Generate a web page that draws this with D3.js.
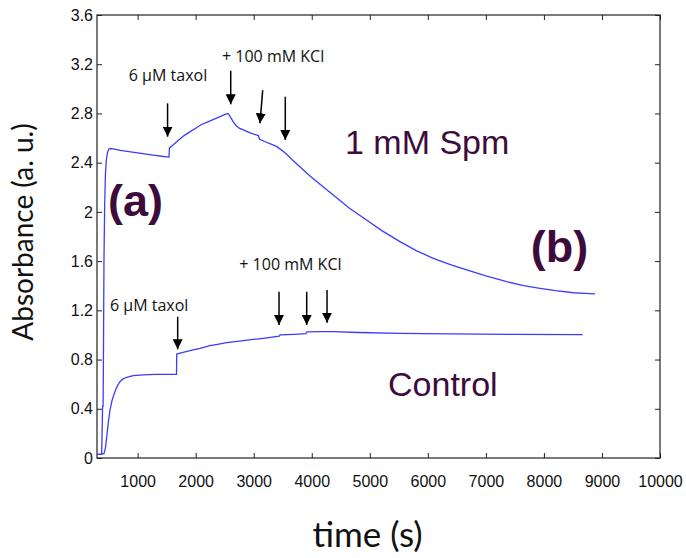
<!DOCTYPE html>
<html>
<head>
<meta charset="utf-8">
<script src="https://cdn.jsdelivr.net/npm/d3@7"></script>
<style>
  body { margin: 0; background: #fff; }
  svg { display: block; }
</style>
</head>
<body>
<svg id="canvas" width="686" height="558"></svg>
<script>
let xTicks = [1000, 2000, 3000, 4000, 5000, 6000, 7000, 8000, 9000, 10000];
let yTicks = [0, 0.4, 0.8, 1.2, 1.6, 2, 2.4, 2.8, 3.2, 3.6];

let spmTime = [300, 380, 392, 396, 405, 412, 420, 432, 445, 460, 480, 500, 530, 600, 700, 850, 1000, 1150, 1300, 1450, 1540, 1548, 1600, 1700, 1800, 1900, 2000, 2100, 2200, 2300, 2400, 2500, 2560, 2600, 2650, 2700, 2750, 2850, 2950, 3080, 3100, 3200, 3300, 3400, 3540, 3650, 3800, 3950, 4100, 4370, 4650, 4944, 5200, 5520, 5800, 6094, 6400, 6669, 7000, 7359, 7650, 7933, 8200, 8507, 8700, 8880];
let spmAbs = [0.03, 0.03, 0.3, 0.42, 0.42, 0.9, 1.6, 2.05, 2.3, 2.42, 2.48, 2.51, 2.515, 2.51, 2.5, 2.49, 2.48, 2.47, 2.46, 2.45, 2.445, 2.52, 2.54, 2.58, 2.62, 2.65, 2.68, 2.71, 2.73, 2.75, 2.77, 2.79, 2.80, 2.77, 2.73, 2.70, 2.68, 2.66, 2.64, 2.62, 2.59, 2.57, 2.55, 2.53, 2.48, 2.43, 2.365, 2.30, 2.24, 2.137, 2.03, 1.934, 1.85, 1.758, 1.685, 1.623, 1.57, 1.528, 1.48, 1.433, 1.40, 1.379, 1.36, 1.343, 1.337, 1.333];

let ctrlTime = [300, 350, 420, 445, 470, 495, 524, 560, 610, 650, 696, 750, 812, 925, 1100, 1300, 1500, 1670, 1674, 1750, 1850, 1959, 2075, 2247, 2400, 2535, 2750, 2993, 3200, 3440, 3455, 3700, 3900, 3920, 4150, 4370, 4800, 5520, 6382, 7500, 8668];
let ctrlAbs = [0.03, 0.03, 0.035, 0.08, 0.18, 0.29, 0.39, 0.47, 0.54, 0.585, 0.62, 0.643, 0.656, 0.669, 0.675, 0.68, 0.68, 0.68, 0.845, 0.855, 0.866, 0.878, 0.891, 0.913, 0.926, 0.937, 0.95, 0.964, 0.975, 0.99, 1.0, 1.005, 1.01, 1.025, 1.027, 1.027, 1.02, 1.013, 1.008, 1.005, 1.002];

// arrows: [time at top, abs at top, time at tip, abs at tip]
let arrows = [
  [1516, 2.882, 1516, 2.611],
  [2604, 3.147, 2604, 2.874],
  [3155, 2.990, 3108, 2.720],
  [3544, 2.936, 3544, 2.584],
  [1690, 1.148, 1690, 0.883],
  [3436, 1.351, 3436, 1.081],
  [3913, 1.351, 3913, 1.081],
  [4263, 1.365, 4263, 1.099]
];

let noteText = ["6 \u00b5M taxol", "+ 100 mM KCl", "6 \u00b5M taxol", "+ 100 mM KCl"];
let noteTime = [1523, 2454, 524, 2752];
let noteAbs = [3.064, 3.218, 1.195, 1.528];

let bigText = ["1 mM Spm", "Control", "(a)", "(b)"];
let bigTime = [4573, 5314, 490, 7772];
let bigAbs = [2.470, 0.504, 1.967, 1.593];
let bigBold = [false, false, true, true];

let canvas = d3.select("#canvas");

let plotLeft = 97, plotRight = 660, plotTop = 15, plotBottom = 458;

let x = d3.scaleLinear().domain([300, 10000]).range([plotLeft, plotRight]);
let y = d3.scaleLinear().domain([0, 3.6]).range([plotBottom, plotTop]);

let styleAxis = (g) => {
  g.select(".domain").remove();
  g.selectAll(".tick line").attr("stroke", "#222");
  g.selectAll(".tick text")
    .attr("fill", "#111")
    .style("font-family", "'Liberation Sans', Arial, sans-serif")
    .style("font-size", "16px");
};

canvas.append("g")
  .attr("transform", "translate(0," + plotBottom + ")")
  .call(d3.axisBottom(x).tickValues(xTicks).tickFormat(d3.format("d")).tickSize(-5).tickPadding(18))
  .call(styleAxis);

canvas.append("g")
  .attr("transform", "translate(" + plotLeft + ",0)")
  .call(d3.axisLeft(y).tickValues(yTicks).tickFormat((d) => d3.format(".1f")(d).replace(/\.0$/, "")).tickSize(-5).tickPadding(4))
  .call(styleAxis);

canvas.append("g")
  .attr("transform", "translate(0," + plotTop + ")")
  .call(d3.axisTop(x).tickValues(xTicks).tickFormat("").tickSize(-5))
  .call(styleAxis);

canvas.append("g")
  .attr("transform", "translate(" + plotRight + ",0)")
  .call(d3.axisRight(y).tickValues(yTicks).tickFormat("").tickSize(-5))
  .call(styleAxis);

canvas.append("rect")
  .attr("x", plotLeft)
  .attr("y", plotTop)
  .attr("width", plotRight - plotLeft)
  .attr("height", plotBottom - plotTop)
  .attr("fill", "none")
  .attr("stroke", "#222")
  .attr("stroke-width", 1.2);

let line = d3.line()
  .x((d) => x(d[0]))
  .y((d) => y(d[1]));

canvas.append("path")
  .datum(d3.zip(spmTime, spmAbs))
  .attr("d", line)
  .attr("fill", "none")
  .attr("stroke", "#3c3cff")
  .attr("stroke-width", 1.3);

canvas.append("path")
  .datum(d3.zip(ctrlTime, ctrlAbs))
  .attr("d", line)
  .attr("fill", "none")
  .attr("stroke", "#3c3cff")
  .attr("stroke-width", 1.3);

canvas.append("defs")
  .append("marker")
  .attr("id", "head")
  .attr("viewBox", "0 0 10 10")
  .attr("refX", 10)
  .attr("refY", 5)
  .attr("markerWidth", 10)
  .attr("markerHeight", 10)
  .attr("markerUnits", "userSpaceOnUse")
  .attr("orient", "auto")
  .append("path")
  .attr("d", "M0,0L10,5L0,10Z")
  .attr("fill", "#000");

canvas.selectAll(".arrow")
  .data(arrows)
  .enter()
  .append("line")
  .attr("class", "arrow")
  .attr("x1", (d) => x(d[0]))
  .attr("y1", (d) => y(d[1]))
  .attr("x2", (d) => x(d[2]))
  .attr("y2", (d) => y(d[3]))
  .attr("stroke", "#000")
  .attr("stroke-width", 1.5)
  .attr("marker-end", "url(#head)");

canvas.selectAll(".note")
  .data(noteText)
  .enter()
  .append("text")
  .attr("class", "note")
  .attr("x", (d, i) => x(noteTime[i]))
  .attr("y", (d, i) => y(noteAbs[i]))
  .attr("text-anchor", (d, i) => (i === 0 ? "middle" : "start"))
  .style("font-family", "'Open Sans', sans-serif")
  .style("font-size", "16px")
  .attr("fill", "#111")
  .text((d) => d);

canvas.selectAll(".big")
  .data(bigText)
  .enter()
  .append("text")
  .attr("class", "big")
  .attr("x", (d, i) => x(bigTime[i]))
  .attr("y", (d, i) => y(bigAbs[i]))
  .style("font-family", "'Liberation Sans', Arial, sans-serif")
  .style("font-size", (d, i) => (bigBold[i] ? "45px" : "34px"))
  .style("font-weight", (d, i) => (bigBold[i] ? "bold" : "normal"))
  .attr("fill", "#3d0c3d")
  .text((d) => d);

canvas.append("text")
  .attr("x", (plotLeft + plotRight) / 2 - 11)
  .attr("y", 547)
  .attr("text-anchor", "middle")
  .style("font-family", "Lato, sans-serif")
  .style("font-size", "35px")
  .attr("fill", "#111")
  .text("time (s)");

canvas.append("text")
  .attr("transform", "translate(33,232) rotate(-90)")
  .attr("text-anchor", "middle")
  .style("font-family", "Lato, sans-serif")
  .style("font-size", "28px")
  .attr("fill", "#111")
  .text("Absorbance (a. u.)");
</script>
</body>
</html>
